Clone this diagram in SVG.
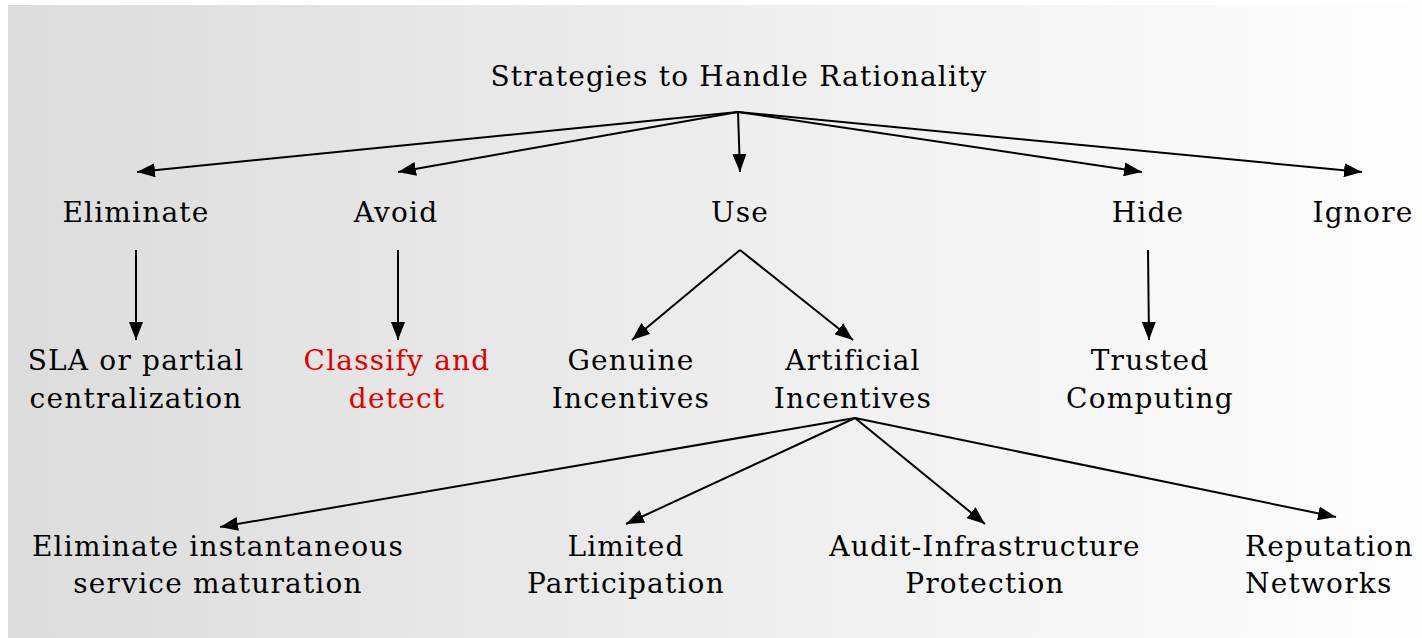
<svg xmlns="http://www.w3.org/2000/svg" width="1422" height="638" viewBox="0 0 1422 638">
<defs>
<linearGradient id="bg" x1="0" y1="0" x2="1" y2="0">
<stop offset="0" stop-color="#dcdcdc"/>
<stop offset="1" stop-color="#fefefe"/>
</linearGradient>
<marker id="ah" viewBox="0 0 18 14" refX="18" refY="7" markerWidth="18" markerHeight="14" markerUnits="userSpaceOnUse" orient="auto">
<path d="M0,0 L18,7 L0,14 Z" fill="#000"/>
</marker>
<style>
text{font-family:"DejaVu Serif","Liberation Serif",serif;font-size:28px;letter-spacing:1.2px;fill:#000;text-anchor:middle}
.red{fill:#e00000}
.c line{stroke:#000;stroke-width:2;marker-end:url(#ah)}
</style>
</defs>
<rect x="0" y="0" width="1422" height="638" fill="#fff"/>
<rect x="8" y="5" width="1414" height="633" fill="url(#bg)"/>
<g class="c" id="connectors">
<line x1="738" y1="112" x2="137" y2="172"/>
<line x1="738" y1="112" x2="398" y2="172"/>
<line x1="738" y1="112" x2="740" y2="172"/>
<line x1="738" y1="112" x2="1142" y2="172"/>
<line x1="738" y1="112" x2="1362" y2="172"/>
<line x1="136" y1="250" x2="136" y2="340"/>
<line x1="398" y1="250" x2="398" y2="340"/>
<line x1="1148" y1="250" x2="1149" y2="340"/>
<line x1="740" y1="250" x2="632" y2="340"/>
<line x1="740" y1="250" x2="853" y2="340"/>
<line x1="855" y1="418" x2="220" y2="527"/>
<line x1="855" y1="418" x2="626" y2="524"/>
<line x1="855" y1="418" x2="985" y2="524"/>
<line x1="855" y1="418" x2="1336" y2="517"/>
</g>
<g id="root"><text x="739" y="86">Strategies to Handle Rationality</text></g>
<g id="eliminate"><text x="136" y="222">Eliminate</text></g>
<g id="avoid"><text x="396" y="222">Avoid</text></g>
<g id="use"><text x="740" y="222">Use</text></g>
<g id="hide"><text x="1148" y="222">Hide</text></g>
<g id="ignore"><text x="1363" y="222">Ignore</text></g>
<g id="sla"><text x="136" y="370">SLA or partial</text><text x="136" y="408">centralization</text></g>
<g id="classify"><text class="red" x="397" y="370">Classify and</text><text class="red" x="397" y="408">detect</text></g>
<g id="genuine"><text x="631" y="370">Genuine</text><text x="631" y="408">Incentives</text></g>
<g id="artificial"><text x="853" y="370">Artificial</text><text x="853" y="408">Incentives</text></g>
<g id="trusted"><text x="1150" y="370">Trusted</text><text x="1150" y="408">Computing</text></g>
<g id="eliminst"><text x="218" y="556">Eliminate instantaneous</text><text x="218" y="593">service maturation</text></g>
<g id="limited"><text x="626" y="556">Limited</text><text x="626" y="593">Participation</text></g>
<g id="audit"><text x="985" y="556">Audit-Infrastructure</text><text x="985" y="593">Protection</text></g>
<g id="reputation"><text x="1245" y="556" style="text-anchor:start">Reputation</text><text x="1245" y="593" style="text-anchor:start">Networks</text></g>
</svg>
